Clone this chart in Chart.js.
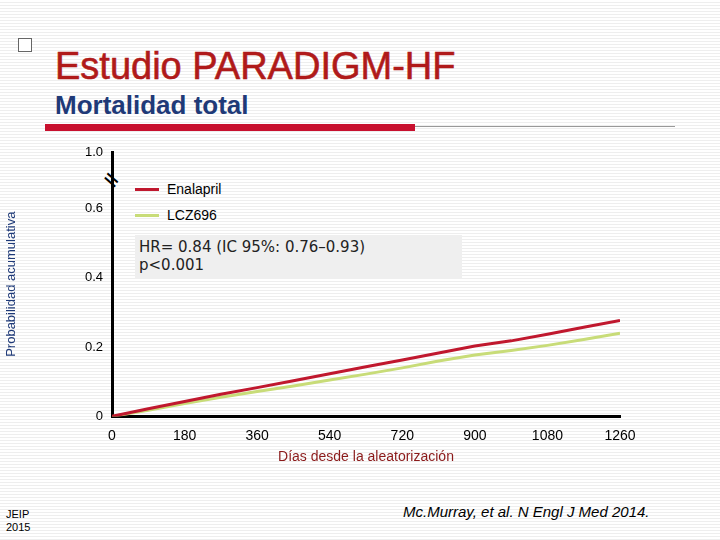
<!DOCTYPE html><html><head><meta charset="utf-8">
<script src="https://cdn.jsdelivr.net/npm/chart.js@4"></script>
<style>
body{margin:0;width:720px;height:540px;position:relative;font-family:"Liberation Sans",Arial,sans-serif;background:repeating-linear-gradient(#fff 0 2px,#eee 2px 3px);overflow:hidden}
.a{position:absolute;white-space:nowrap}
</style></head><body>
<div class="a" style="left:18px;top:38px;width:12px;height:12px;border:1px solid #666;background:#fff"></div>
<div class="a" style="left:55px;top:45px;font-size:38px;color:#b01a1a;-webkit-text-stroke:0.6px #b01a1a">Estudio PARADIGM-HF</div>
<div class="a" style="left:55px;top:90px;font-size:26px;font-weight:bold;color:#1f3a78">Mortalidad total</div>
<div class="a" style="left:45px;top:124px;width:370px;height:7px;background:#c8102e"></div>
<div class="a" style="left:415px;top:126px;width:260px;height:1px;background:#999"></div>
<div class="a" style="left:135px;top:235px;width:327px;height:44px;background:#efefef"></div>
<div class="a" style="left:139px;top:238px;font-family:'DejaVu Sans';font-size:15px;color:#222;line-height:18px">HR= 0.84 (IC 95%: 0.76–0.93)<br>p&lt;0.001</div>
<div class="a" style="left:107px;top:170px;font-size:18px;font-weight:bold;transform:rotate(-60deg)">//</div>
<div class="a" style="left:135px;top:188px;width:24px;height:3px;background:#c0182e"></div>
<div class="a" style="left:135px;top:214px;width:24px;height:3px;background:#c8dc78"></div>
<div class="a" style="left:167px;top:181px;font-size:14px">Enalapril</div>
<div class="a" style="left:167px;top:207px;font-size:14px">LCZ696</div>
<div class="a" style="left:6px;top:508px;font-size:11px;color:#000;line-height:13px">JEIP<br>2015</div>
<div class="a" style="left:403px;top:503px;font-size:15px;font-style:italic;color:#000">Mc.Murray, et al. N Engl J Med 2014.</div>
<canvas id="c" class="a" style="left:0;top:130px" width="720" height="360"></canvas>
<script>
const days=[0,90,180,270,360,450,540,630,720,810,900,990,1080,1170,1260];
const enalapril=[0,0.022,0.043,0.064,0.083,0.103,0.123,0.143,0.163,0.183,0.203,0.218,0.237,0.257,0.277];
const lcz696=[0,0.018,0.037,0.055,0.072,0.088,0.105,0.122,0.140,0.160,0.177,0.190,0.205,0.222,0.240];
const yTicks=[0,0.2,0.4,0.6,0.763];
const yLabels={0:"0",0.2:"0.2",0.4:"0.4",0.6:"0.6",0.763:"1.0"};
const xTicks=[0,180,360,540,720,900,1080,1260];
const toPts=a=>a.map((v,i)=>({x:days[i],y:v}));
new Chart(document.getElementById('c'),{type:'line',
data:{datasets:[
{label:'Enalapril',data:toPts(enalapril),borderColor:'#c0182e',borderWidth:3,pointRadius:0},
{label:'LCZ696',data:toPts(lcz696),borderColor:'#c8dc78',borderWidth:3,pointRadius:0}]},
options:{responsive:false,animation:false,
layout:{padding:{left:0,right:100,top:22,bottom:20}},
plugins:{legend:{display:false},tooltip:{enabled:false}},
scales:{
x:{type:'linear',min:0,max:1260,afterBuildTicks:s=>{s.ticks=xTicks.map(v=>({value:v}))},
 ticks:{color:'#000',font:{size:14},autoSkip:false,callback:v=>String(v)},grid:{display:false,drawTicks:true,tickLength:8,tickColor:'#000',tickWidth:3},border:{color:'#000',width:3},
 title:{display:true,text:'Días desde la aleatorización',color:'#8b1a1a',font:{size:14},padding:{top:2}}},
y:{type:'linear',min:0,max:0.763,afterBuildTicks:s=>{s.ticks=yTicks.map(v=>({value:v}))},
 afterFit:s=>{s.width=112},
 ticks:{color:'#000',font:{size:13},callback:v=>yLabels[v]},grid:{display:false,drawTicks:true,tickLength:6,tickColor:'#000',tickWidth:2},border:{color:'#000',width:3},
 title:{display:true,text:'Probabilidad acumulativa',color:'#1f3a78',font:{size:13}}}}}});
</script></body></html>
